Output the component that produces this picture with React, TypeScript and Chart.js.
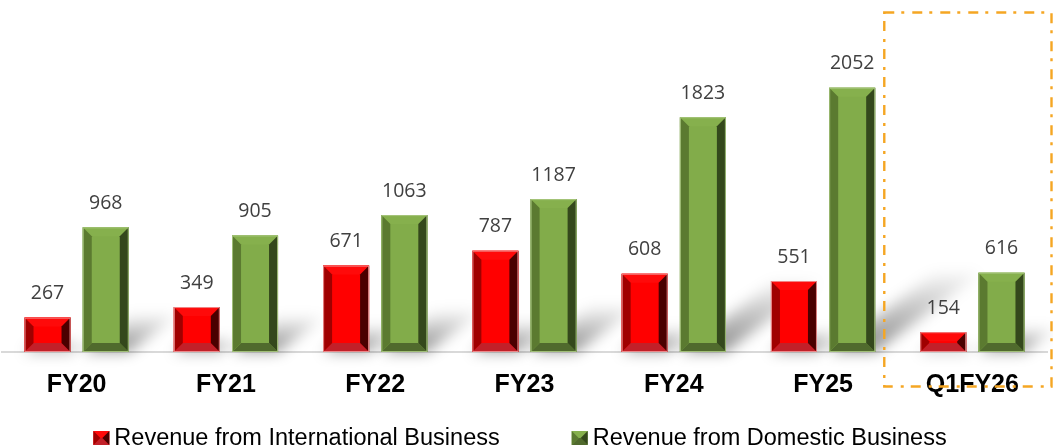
import React, { useEffect, useRef } from 'react';
import { Chart, registerables } from 'chart.js';

Chart.register(...registerables);

const categories = ['FY20', 'FY21', 'FY22', 'FY23', 'FY24', 'FY25', 'Q1FY26'];
const internationalRevenue = [267, 349, 671, 787, 608, 551, 154];
const domesticRevenue = [968, 905, 1063, 1187, 1823, 2052, 616];
const seriesNames = ['Revenue from International Business', 'Revenue from Domestic Business'];
const highlightedCategory = 'Q1FY26';

type Pal = { face: string; top: string; left: string; right: string; bottom: string; edge: string };
const redPal: Pal = { face: '#FF0000', top: '#FF0A0A', left: '#A00000', right: '#4A0000', bottom: '#C22029', edge: 'rgba(240,150,150,0.9)' };
const greenPal: Pal = { face: '#82AC4A', top: '#86B04D', left: '#5B7A30', right: '#34481C', bottom: '#506A2D', edge: 'rgba(170,200,130,0.9)' };
const palettes = [redPal, greenPal];

function drawBevel(ctx: CanvasRenderingContext2D, x0: number, y0: number, x1: number, y1: number, bMax: number, pal: Pal, edge = true) {
  const w = x1 - x0;
  const h = y1 - y0;
  if (w <= 0 || h <= 0) return;
  const b = Math.min(bMax, w / 2, h / 2);
  const poly = (pts: number[][], c: string) => {
    ctx.fillStyle = c;
    ctx.beginPath();
    ctx.moveTo(pts[0][0], pts[0][1]);
    for (let i = 1; i < pts.length; i++) ctx.lineTo(pts[i][0], pts[i][1]);
    ctx.closePath();
    ctx.fill();
  };
  poly([[x0, y0], [x1, y0], [x1, y1], [x0, y1]], pal.face);
  poly([[x0, y0], [x1, y0], [x1 - b, y0 + b], [x0 + b, y0 + b]], pal.top);
  poly([[x0, y1], [x1, y1], [x1 - b, y1 - b], [x0 + b, y1 - b]], pal.bottom);
  poly([[x0, y0], [x0 + b, y0 + b], [x0 + b, y1 - b], [x0, y1]], pal.left);
  poly([[x1, y0], [x1 - b, y0 + b], [x1 - b, y1 - b], [x1, y1]], pal.right);
  if (edge) {
    ctx.strokeStyle = pal.edge;
    ctx.lineWidth = 1;
    ctx.strokeRect(x0 + 0.5, y0 + 0.5, w - 1, h - 1);
  }
}

const bevelPlugin = {
  id: 'bevelBars',
  beforeDatasetsDraw(chart: any) {
    const ctx = chart.ctx as CanvasRenderingContext2D;
    ctx.save();
    ctx.filter = 'blur(7px)';
    chart.data.datasets.forEach((_ds: any, di: number) => {
      chart.getDatasetMeta(di).data.forEach((el: any) => {
        const { x, y, base, width } = el.getProps(['x', 'y', 'base', 'width'], true);
        const h = base - y;
        const l = x - width / 2;
        const r = x + width / 2;
        const dx = h * 0.4;
        const dy = h * 0.3;
        const g = ctx.createLinearGradient(0, base, 0, base - dy);
        g.addColorStop(0, 'rgba(0,0,0,0.45)');
        g.addColorStop(0.6, 'rgba(0,0,0,0.2)');
        g.addColorStop(1, 'rgba(0,0,0,0.03)');
        ctx.fillStyle = g;
        ctx.beginPath();
        ctx.moveTo(l, base);
        ctx.lineTo(r, base);
        ctx.lineTo(r + dx, base - dy);
        ctx.lineTo(l + dx, base - dy);
        ctx.closePath();
        ctx.fill();
      });
    });
    ctx.restore();
  },
  afterDatasetsDraw(chart: any) {
    const ctx = chart.ctx as CanvasRenderingContext2D;
    ctx.save();
    chart.data.datasets.forEach((ds: any, di: number) => {
      const pal = palettes[di];
      chart.getDatasetMeta(di).data.forEach((el: any, i: number) => {
        const { x, y, base, width } = el.getProps(['x', 'y', 'base', 'width'], true);
        drawBevel(ctx, x - width / 2, y, x + width / 2, base, 9, pal);
        ctx.fillStyle = '#404040';
        ctx.font = '19.5px "Open Sans"';
        ctx.textAlign = 'center';
        ctx.textBaseline = 'middle';
        ctx.fillText(String(ds.data[i]), x, y - 24);
      });
    });
    ctx.restore();
  },
  afterDraw(chart: any) {
    const ctx = chart.ctx as CanvasRenderingContext2D;
    const xs = chart.scales.x;
    ctx.save();
    // highlight box
    const idx = categories.indexOf(highlightedCategory);
    const c = xs.getPixelForValue(idx);
    const half = (xs.getPixelForValue(1) - xs.getPixelForValue(0)) / 2;
    const left = c - half * 1.18;
    const right = Math.min(c + half * 1.066, chart.width - 1.5);
    ctx.strokeStyle = '#F5A623';
    ctx.lineWidth = 2.4;
    ctx.setLineDash([10, 7, 3, 8]);
    ctx.strokeRect(left, 12.5, right - left, 374);
    ctx.setLineDash([]);

    // legend
    ctx.font = '23.5px "Liberation Sans", Arial, sans-serif';
    ctx.textBaseline = 'alphabetic';
    ctx.textAlign = 'left';
    const iconW = 16;
    const iconH = 14;
    const gapIcon = 5;
    const gapItems = 72;
    const widths = chart.data.datasets.map((ds: any) => ctx.measureText(ds.label).width);
    const total = widths.reduce((a: number, w: number) => a + iconW + gapIcon + w, 0) + gapItems * (widths.length - 1);
    let lx = chart.width / 2 - 6.5 - total / 2;
    chart.data.datasets.forEach((ds: any, di: number) => {
      drawBevel(ctx, lx, 431, lx + iconW, 431 + iconH, 8, palettes[di], false);
      ctx.fillStyle = '#000000';
      ctx.fillText(ds.label, lx + iconW + gapIcon, 445);
      lx += iconW + gapIcon + widths[di] + gapItems;
    });
    ctx.restore();
  },
};

export default function App() {
  const ref = useRef<HTMLCanvasElement | null>(null);
  useEffect(() => {
    if (!ref.current) return;
    const chart = new Chart(ref.current, {
      type: 'bar',
      data: {
        labels: categories,
        datasets: [
          { label: seriesNames[0], data: internationalRevenue, backgroundColor: redPal.face, borderWidth: 0 },
          { label: seriesNames[1], data: domesticRevenue, backgroundColor: greenPal.face, borderWidth: 0 },
        ],
      },
      options: {
        responsive: true,
        maintainAspectRatio: false,
        animation: false,
        layout: { padding: { top: 30, left: 2, right: 6, bottom: 0 } },
        plugins: { legend: { display: false }, tooltip: { enabled: false } },
        datasets: { bar: { categoryPercentage: 0.78, barPercentage: 0.79 } },
        scales: {
          x: {
            grid: { display: false, drawTicks: false },
            border: { display: true, color: '#D9D9D9', width: 2 },
            ticks: {
              color: '#000000',
              padding: 18,
              font: { family: '"Liberation Sans", Arial, sans-serif', size: 25, weight: 'bold' },
            },
            afterFit: (scale: any) => {
              scale.height = 94;
            },
          },
          y: { display: false, min: 0, max: 2500 },
        },
      },
      plugins: [bevelPlugin],
    });
    return () => chart.destroy();
  }, []);
  return (
    <div style={{ position: 'fixed', left: 0, top: 0, width: 1053, height: 446, background: '#ffffff' }}>
      <canvas ref={ref} />
    </div>
  );
}
